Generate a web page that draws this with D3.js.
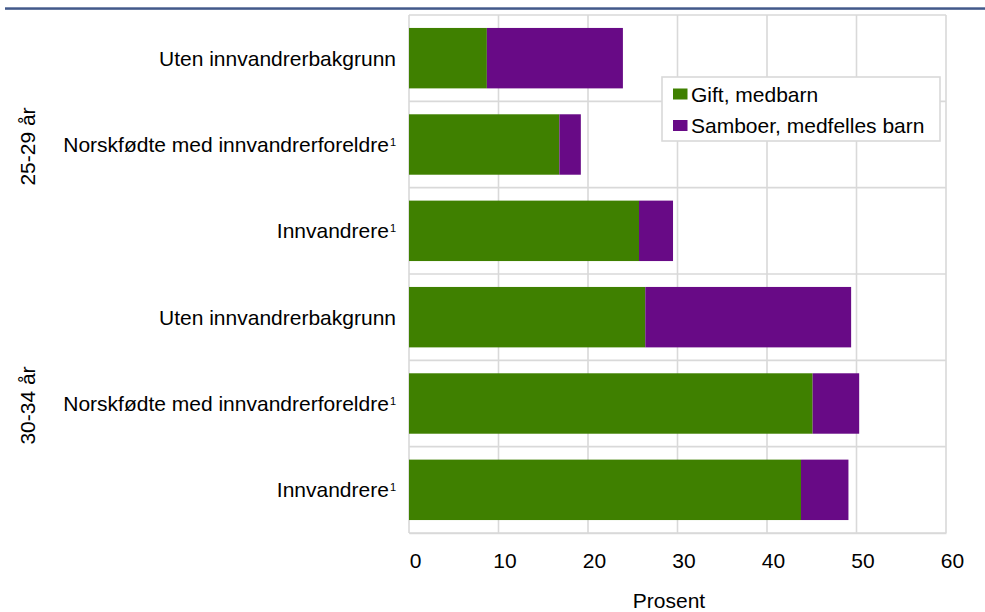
<!DOCTYPE html>
<html>
<head>
<meta charset="utf-8">
<script src="https://cdn.jsdelivr.net/npm/d3@7/dist/d3.min.js"></script>
<style>
  html, body { margin: 0; padding: 0; background: #fff; }
  svg { display: block; font-family: "Liberation Sans", Arial, sans-serif; }
</style>
</head>
<body>
<svg id="chart" width="985" height="612"></svg>
<script>
// ---- data ----
const groups = ["25-29 år", "30-34 år"];
const categories = ["Uten innvandrerbakgrunn", "Norskfødte med innvandrerforeldre", "Innvandrere"];
const footnoteMark = ["", "1", "1"];
const seriesNames = ["Gift, medbarn", "Samboer, medfelles barn"];
const seriesColors = ["#3f8000", "#680a86"];
// order: 25-29 (Uten, Norskfødte, Innvandrere), 30-34 (Uten, Norskfødte, Innvandrere)
const giftValues = [8.7, 16.8, 25.7, 26.4, 45.1, 43.8];
const samboerValues = [15.2, 2.4, 3.8, 23.0, 5.2, 5.3];
const xTicks = [0, 10, 20, 30, 40, 50, 60];
const xTitle = "Prosent";

// ---- build rows ----
const rows = [];
groups.forEach((g, gi) => {
  categories.forEach((c, ci) => {
    const i = gi * categories.length + ci;
    rows.push({ id: i, group: g, label: c, mark: footnoteMark[ci], gift: giftValues[i], samboer: samboerValues[i] });
  });
});

const svg = d3.select("#chart");
const gridColor = "#d9d9d9";

const plot = { left: 409, right: 946, top: 15, bottom: 533 };

const x = d3.scaleLinear().domain([0, 60]).range([plot.left, plot.right]);
const y = d3.scaleBand().domain(rows.map(d => d.id)).range([plot.top, plot.bottom])
  .paddingInner(0.3).paddingOuter(0.15);

// header rule
svg.append("rect").attr("x", 5).attr("y", 7.3).attr("width", 980).attr("height", 2.5).attr("fill", "#42598a");

// vertical grid lines
svg.append("g").selectAll("line").data(xTicks).join("line")
  .attr("x1", d => x(d)).attr("x2", d => x(d))
  .attr("y1", plot.top).attr("y2", plot.bottom)
  .attr("stroke", gridColor).attr("stroke-width", 1.6);

// horizontal grid lines (band boundaries)
const step = y.step();
const hLines = d3.range(rows.length + 1).map(k => plot.top + k * step);
svg.append("g").selectAll("line").data(hLines).join("line")
  .attr("x1", plot.left).attr("x2", plot.right)
  .attr("y1", d => d).attr("y2", d => d)
  .attr("stroke", gridColor).attr("stroke-width", 1.6);

// stacked bars
const stack = d3.stack().keys(["gift", "samboer"]);
const stacked = stack(rows);
svg.append("g").selectAll("g").data(stacked).join("g")
  .attr("fill", (d, i) => seriesColors[i])
  .selectAll("rect").data(d => d).join("rect")
  .attr("x", d => x(d[0]))
  .attr("width", d => x(d[1]) - x(d[0]))
  .attr("y", d => y(d.data.id))
  .attr("height", y.bandwidth());

// x axis
const xAxis = d3.axisBottom(x).tickValues(xTicks).tickSize(0).tickSizeOuter(0).tickPadding(20);
const xg = svg.append("g").attr("transform", `translate(0,${plot.bottom})`).call(xAxis);
xg.select(".domain").attr("stroke", gridColor).attr("stroke-width", 1.6);
xg.selectAll("text").attr("font-size", 21).attr("fill", "#000").attr("dx", 6)
  .attr("font-family", "Liberation Sans, Arial, sans-serif");

svg.append("text").attr("x", 669).attr("y", 608).attr("text-anchor", "middle")
  .attr("font-size", 21).attr("fill", "#000").text(xTitle);

// category labels
const lab = svg.append("g").selectAll("text").data(rows).join("text")
  .attr("x", 396)
  .attr("y", d => y(d.id) + y.bandwidth() / 2 + 7.5)
  .attr("text-anchor", "end")
  .attr("font-size", 21).attr("fill", "#000");
lab.append("tspan").text(d => d.label);
lab.filter(d => d.mark).append("tspan")
  .attr("font-size", 11).attr("dx", 1).attr("dy", -6).text(d => d.mark);

// group labels (rotated)
groups.forEach((g, gi) => {
  const first = rows[gi * categories.length].id;
  const last = rows[gi * categories.length + categories.length - 1].id;
  const cy = (y(first) + y(last) + y.bandwidth()) / 2 + 2;
  svg.append("text")
    .attr("transform", `translate(35,${cy}) rotate(-90)`)
    .attr("text-anchor", "middle")
    .attr("font-size", 21).attr("fill", "#000")
    .text(g);
});

// legend
const lg = svg.append("g").attr("transform", "translate(662,77)");
lg.append("rect").attr("width", 278).attr("height", 64)
  .attr("fill", "#fff").attr("stroke", gridColor).attr("stroke-width", 1.6);
seriesNames.forEach((s, i) => {
  const row = lg.append("g").attr("transform", `translate(0,${i * 31.5})`);
  row.append("rect").attr("x", 11).attr("y", 11.5).attr("width", 14.5).attr("height", 11)
    .attr("fill", seriesColors[i]);
  row.append("text").attr("x", 29).attr("y", 24.5)
    .attr("font-size", 21).attr("fill", "#000").text(s);
});
</script>
</body>
</html>
